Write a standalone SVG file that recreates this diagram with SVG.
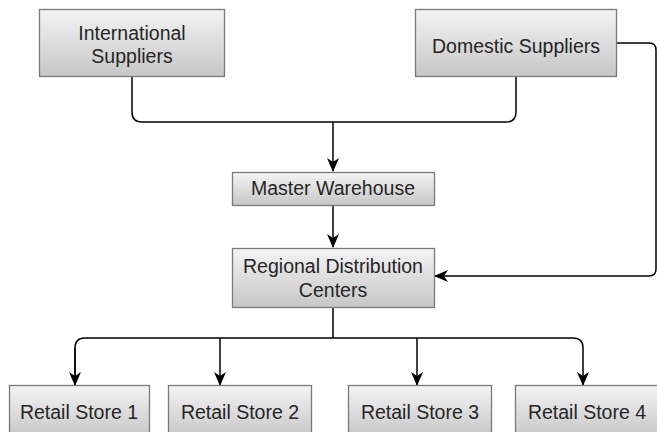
<svg xmlns="http://www.w3.org/2000/svg" width="657" height="432" viewBox="0 0 657 432">
<defs>
<linearGradient id="g" x1="0" y1="0" x2="0" y2="1">
<stop offset="0" stop-color="#f4f4f4"/>
<stop offset="1" stop-color="#c6c6c6"/>
</linearGradient>
<marker id="arr" viewBox="0 0 14 12" refX="13" refY="6" markerWidth="14" markerHeight="12" markerUnits="userSpaceOnUse" orient="auto">
<path d="M0,0 L14,6 L0,12 L4,6 Z" fill="#000"/>
</marker>
<style>
.box{fill:url(#g);stroke:#7a7a7a;stroke-width:1.3}
.t{font-family:"Liberation Sans",Arial,sans-serif;font-size:19.5px;fill:#262626;text-anchor:middle}
.c{fill:none;stroke:#000;stroke-width:1.5}
</style>
</defs>
<g id="connectors">
<path class="c" d="M132,77 V112 Q132,122 142,122 H506 Q516,122 516,112 V77"/>
<path class="c" d="M333,122 V171" marker-end="url(#arr)"/>
<path class="c" d="M333,206 V247" marker-end="url(#arr)"/>
<path class="c" d="M617,43 H649 Q656,43 656,50 V269 Q656,276 649,276 H435" marker-end="url(#arr)"/>
<path class="c" d="M333,308 V338"/>
<path class="c" d="M75,385 V348 Q75,338 85,338 H573 Q583,338 583,348 V385" marker-end="url(#arr)"/>
<path class="c" d="M75,348 V385" marker-end="url(#arr)"/>
<path class="c" d="M220,338 V385" marker-end="url(#arr)"/>
<path class="c" d="M417,338 V385" marker-end="url(#arr)"/>
</g>
<g id="international">
<rect class="box" x="39.5" y="9.5" width="185" height="67"/>
<text class="t" x="132" y="40">International</text>
<text class="t" x="132" y="63">Suppliers</text>
</g>
<g id="domestic">
<rect class="box" x="415.5" y="9.5" width="201" height="67"/>
<text class="t" x="516" y="52.5">Domestic Suppliers</text>
</g>
<g id="master">
<rect class="box" x="232.5" y="172.5" width="202" height="33"/>
<text class="t" x="333" y="195">Master Warehouse</text>
</g>
<g id="regional">
<rect class="box" x="232.5" y="248.5" width="202" height="59"/>
<text class="t" x="333" y="273">Regional Distribution</text>
<text class="t" x="333" y="296.5">Centers</text>
</g>
<g id="store1">
<rect class="box" x="9.5" y="385.5" width="140" height="52"/>
<text class="t" x="79" y="419">Retail Store 1</text>
</g>
<g id="store2">
<rect class="box" x="168.5" y="385.5" width="143" height="52"/>
<text class="t" x="240" y="419">Retail Store 2</text>
</g>
<g id="store3">
<rect class="box" x="348.5" y="385.5" width="143" height="52"/>
<text class="t" x="420" y="419">Retail Store 3</text>
</g>
<g id="store4">
<rect class="box" x="515.5" y="385.5" width="145" height="52"/>
<text class="t" x="587" y="419">Retail Store 4</text>
</g>
</svg>
